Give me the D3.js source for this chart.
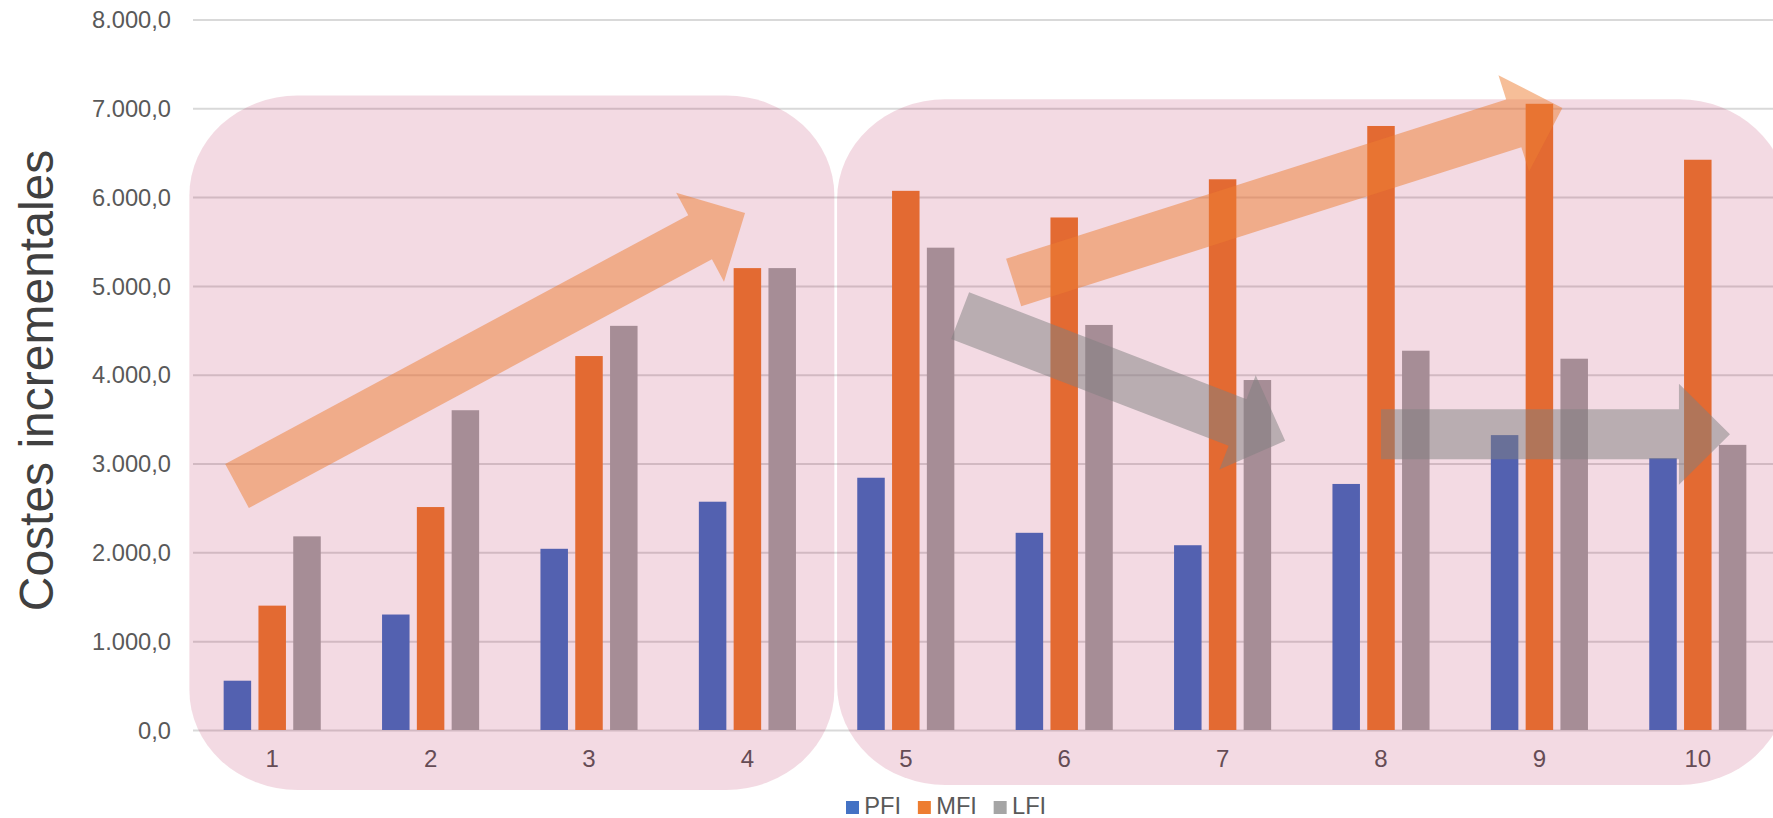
<!DOCTYPE html>
<html>
<head>
<meta charset="utf-8">
<script src="https://cdn.jsdelivr.net/npm/d3@7"></script>
<style>
  html, body { margin: 0; padding: 0; background: #ffffff; }
  svg { display: block; }
</style>
</head>
<body>
<svg id="chart" width="1773" height="818"></svg>
<script>
// Incremental costs per period, three series
const categories = ["1", "2", "3", "4", "5", "6", "7", "8", "9", "10"];
const seriesNames = ["PFI", "MFI", "LFI"];
const pfi = [555, 1300, 2040, 2570, 2840, 2220, 2080, 2770, 3320, 3060];
const mfi = [1400, 2510, 4210, 5200, 6070, 5770, 6200, 6800, 7050, 6420];
const lfi = [2180, 3600, 4550, 5200, 5430, 4560, 3940, 4270, 4180, 3210];
const yTicks = [0, 1000, 2000, 3000, 4000, 5000, 6000, 7000, 8000];
const yTitle = "Costes incrementales";

// Highlighted period blocks: category span and value span
const blockFrom = [0.477, 4.566];
const blockTo = [4.549, 10.566];
const blockTop = [7143, 7100];
const blockBottom = [-675, -619];

// Trend arrows: start/end as (category position, value)
const arrowFromCat = [0.778, 5.681, 5.343, 8.0];
const arrowFromVal = [2747, 5038, 4665, 3329];
const arrowToCat = [3.985, 9.145, 7.395, 10.203];
const arrowToVal = [5820, 7003, 3256, 3329];
const arrowKind = ["up", "up", "down", "flat"];

const seriesValues = [pfi, mfi, lfi];
const seriesColors = ["#4472C4", "#ED7D31", "#A5A5A5"];
const arrowColors = { up: "#ED7D31", down: "#7F7F7F", flat: "#7F7F7F" };

const svg = d3.select("#chart");
const plot = { left: 193, right: 1777, top: 19.4, bottom: 730 };

const esLocale = d3.formatLocale({ decimal: ",", thousands: ".", grouping: [3], currency: ["", " €"] });
const fmt = esLocale.format(",.1f");

const x0 = d3.scaleBand().domain(categories).range([plot.left, plot.right]).padding(0);
const step = x0.step();
const groupW = 104.4;
const x1 = d3.scaleBand().domain(seriesNames)
  .range([(step - groupW) / 2, (step + groupW) / 2])
  .paddingInner(0.21).paddingOuter(0.105);
const y = d3.scaleLinear().domain([0, 8000]).range([plot.bottom, plot.top]);
const xPos = d3.scaleLinear().domain([1, 10])
  .range([x0("1") + step / 2, x0("10") + step / 2]);

const font = "'Liberation Sans', Arial, sans-serif";

// Gridlines and value labels
const yAxis = d3.axisLeft(y).tickValues(yTicks).tickSize(-(plot.right - plot.left)).tickFormat(fmt).tickPadding(22);
const gAxis = svg.append("g").attr("transform", `translate(${plot.left},0)`).call(yAxis);
gAxis.select(".domain").remove();
gAxis.selectAll(".tick line").attr("stroke", "#D9D9D9").attr("stroke-width", 2);
gAxis.selectAll(".tick text")
  .attr("fill", "#595959").attr("font-family", font).attr("font-size", 23.7)
  .attr("dy", "0.35em");

// Bars
const rows = categories.map((c, i) => ({ c, vals: seriesNames.map((s, k) => ({ s, v: seriesValues[k][i], k })) }));
const groups = svg.append("g").selectAll("g").data(rows).join("g")
  .attr("transform", d => `translate(${x0(d.c)},0)`);
groups.selectAll("rect").data(d => d.vals).join("rect")
  .attr("x", d => x1(d.s))
  .attr("width", x1.bandwidth())
  .attr("y", d => y(d.v))
  .attr("height", d => y(0) - y(d.v))
  .attr("fill", d => seriesColors[d.k]);

// Category labels
const xAxis = d3.axisBottom(x0).tickSize(0).tickPadding(20);
const gx = svg.append("g").attr("transform", `translate(0,${plot.bottom})`).call(xAxis);
gx.select(".domain").remove();
gx.selectAll(".tick text").attr("fill", "#595959").attr("font-family", font).attr("font-size", 24);

// Translucent block highlights
svg.append("g").selectAll("rect").data(blockFrom.map((f, i) => i)).join("rect")
  .attr("x", i => xPos(blockFrom[i]))
  .attr("width", i => xPos(blockTo[i]) - xPos(blockFrom[i]))
  .attr("y", i => y(blockTop[i]))
  .attr("height", i => y(blockBottom[i]) - y(blockTop[i]))
  .attr("rx", 108).attr("ry", 100)
  .attr("fill", "rgb(170,0,60)").attr("fill-opacity", 0.145);

// Block arrows
const shaftW = 50, headW = 101, headL = 51;
function arrowPath(i) {
  const ax = xPos(arrowFromCat[i]), ay = y(arrowFromVal[i]);
  const bx = xPos(arrowToCat[i]), by = y(arrowToVal[i]);
  const len = Math.hypot(bx - ax, by - ay);
  const dx = (bx - ax) / len, dy = (by - ay) / len;
  const nx = -dy, ny = dx;
  const hx = bx - dx * headL, hy = by - dy * headL;
  const pts = [
    [ax + nx * shaftW / 2, ay + ny * shaftW / 2],
    [hx + nx * shaftW / 2, hy + ny * shaftW / 2],
    [hx + nx * headW / 2, hy + ny * headW / 2],
    [bx, by],
    [hx - nx * headW / 2, hy - ny * headW / 2],
    [hx - nx * shaftW / 2, hy - ny * shaftW / 2],
    [ax - nx * shaftW / 2, ay - ny * shaftW / 2]
  ];
  return "M" + pts.map(p => p.join(",")).join("L") + "Z";
}
svg.append("g").selectAll("path").data(arrowKind.map((k, i) => i)).join("path")
  .attr("d", arrowPath)
  .attr("fill", i => arrowColors[arrowKind[i]])
  .attr("fill-opacity", 0.5);

// Axis title
svg.append("text")
  .attr("transform", `translate(53,${(150 + 611) / 2}) rotate(-90)`)
  .attr("text-anchor", "middle")
  .attr("font-family", font).attr("font-size", 48)
  .attr("fill", "#404040")
  .text(yTitle);

// Legend
const legend = svg.append("g");
let lx = 846;
seriesNames.forEach((s, k) => {
  legend.append("rect").attr("x", lx).attr("y", 801).attr("width", 13).attr("height", 13)
    .attr("fill", seriesColors[k]);
  const t = legend.append("text").attr("x", lx + 18.3).attr("y", 814)
    .attr("font-family", font).attr("font-size", 23.7).attr("fill", "#595959").text(s);
  lx = lx + 18.3 + t.node().getComputedTextLength() + 16.7;
});
</script>
</body>
</html>
